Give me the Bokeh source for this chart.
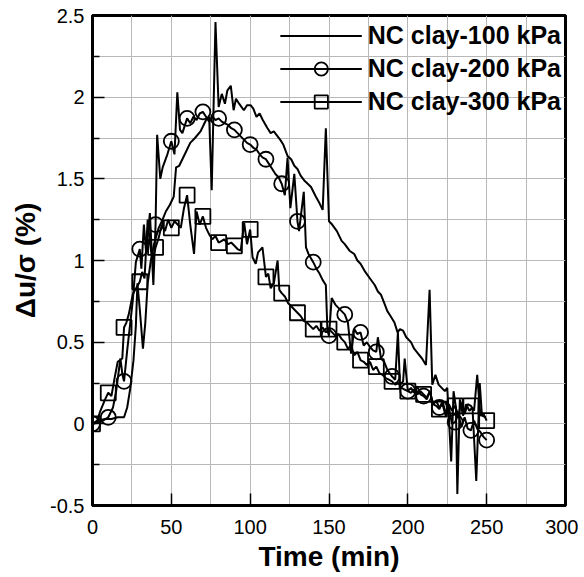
from bokeh.plotting import figure
from bokeh.models import FixedTicker, Legend, LegendItem, CustomJSTickFormatter, Range1d
from bokeh.embed import file_html
from bokeh.resources import INLINE

# ---------------- data ----------------
x_ticks = [0, 50, 100, 150, 200, 250, 300]
x_minor = [25, 75, 125, 175, 225, 275]
y_ticks = [-0.5, 0, 0.5, 1, 1.5, 2, 2.5]
y_minor = [-0.25, 0.25, 0.75, 1.25, 1.75, 2.25]

labels = ["NC clay-100 kPa", "NC clay-200 kPa", "NC clay-300 kPa"]

t100 = [0, 4, 8, 12, 16, 20, 22, 24, 26, 27.5,
        28.5, 30, 32, 33.5, 35, 37, 39, 42, 44, 46.5,
        49, 51.5, 53, 55, 57, 59, 62, 65, 68.5, 72,
        74, 75.6, 78, 80, 82, 84, 85.5, 87.7, 89.5, 91,
        93, 96, 98, 100.4, 102, 104, 106, 108, 111, 113,
        115, 117.4, 119, 121, 123.7, 126, 128, 130, 132, 134.3,
        136.5, 138.6, 141.7, 144, 146, 148, 150, 152, 155, 158,
        160, 163, 166, 168, 170, 173, 176, 179, 181, 183,
        185, 187, 189, 191.5, 193.5, 195, 197, 199, 202, 204,
        206.5, 209, 211.5, 213.8, 215.5, 217.5, 219.5, 221.5, 223.5, 225,
        227.5, 229, 230.5, 231.4, 233, 235, 237, 239, 241, 243.4,
        245.6, 247, 249.5]
v100 = [0.00, 0.02, 0.03, 0.03, 0.04, 0.04, 0.10, 0.22, 0.39, 0.60,
        0.86, 0.70, 0.46, 0.62, 0.86, 1.00, 1.10, 1.20, 1.24, 1.30,
        1.34, 1.39, 1.57, 1.58, 1.62, 1.66, 1.72, 1.75, 1.79, 1.86,
        1.88, 1.43, 2.46, 1.94, 2.02, 1.96, 2.04, 2.07, 1.92, 1.99,
        1.96, 1.92, 1.95, 1.95, 1.93, 1.88, 1.90, 1.86, 1.81, 1.78,
        1.79, 1.76, 1.74, 1.71, 1.64, 1.62, 1.58, 1.56, 1.52, 1.49,
        1.47, 1.45, 1.39, 1.35, 1.31, 1.81, 1.24, 1.22, 1.18, 1.12,
        1.10, 1.06, 1.04, 1.00, 0.98, 0.93, 0.89, 0.85, 0.81, 0.79,
        0.74, 0.69, 0.66, 0.62, 0.56, 0.58, 0.57, 0.53, 0.50, 0.46,
        0.43, 0.40, 0.36, 0.82, 0.24, 0.30, 0.24, 0.22, 0.20, 0.22,
        -0.23, 0.20, 0.10, -0.43, 0.15, 0.05, 0.12, 0.08, 0.10, -0.35,
        0.25, 0.05, 0.04]

t200 = [0, 5, 10, 13, 15, 17.7, 19, 20, 22, 25.5,
        27.5, 30, 31, 32.6, 34, 36.4, 38.6, 40, 41, 43,
        44.5, 47.5, 50, 52, 53.8, 55.5, 57, 60, 62, 64,
        66, 68, 70, 72, 74, 76, 78, 80, 82, 84,
        86, 88, 90, 92, 94, 96, 98, 100, 102, 104,
        106, 108, 110, 112, 114, 116, 118, 120, 122, 123.7,
        125.5, 128, 130, 131, 134, 135.4, 137, 140, 142, 144,
        146, 148, 149, 150, 151.7, 154, 156, 158, 160, 162,
        164, 166, 168, 170, 172, 174, 176, 178, 180, 181,
        183, 185, 187, 190, 192, 193.7, 195, 197, 198, 200,
        202, 204, 206, 208, 210, 212, 214, 216, 218, 220,
        222, 224, 226, 228, 230, 232, 234, 236, 238, 240,
        242, 244, 246, 248, 250]
v200 = [0.00, 0.01, 0.04, 0.10, 0.20, 0.40, 0.30, 0.26, 0.45, 0.75,
        0.99, 1.07, 0.95, 1.22, 1.05, 1.29, 0.85, 1.22, 1.77, 1.50,
        1.57, 1.65, 1.73, 1.65, 2.03, 1.80, 1.78, 1.87, 1.84, 1.88,
        1.86, 1.90, 1.91, 1.88, 1.85, 1.88, 1.86, 1.87, 1.85, 1.84,
        1.83, 1.81, 1.80, 1.78, 1.76, 1.74, 1.72, 1.71, 1.69, 1.68,
        1.65, 1.63, 1.62, 1.59, 1.56, 1.53, 1.51, 1.47, 1.40, 1.63,
        1.32, 1.53, 1.24, 1.18, 1.42, 1.08, 1.04, 0.99, 0.95, 0.92,
        0.88, 0.85, 0.57, 0.54, 0.77, 0.73, 0.71, 0.69, 0.67, 0.62,
        0.43, 0.58, 0.55, 0.56, 0.48, 0.50, 0.47, 0.45, 0.44, 0.53,
        0.40, 0.38, 0.33, 0.29, 0.27, 0.56, 0.24, 0.26, 0.40, 0.20,
        0.22, 0.19, 0.23, 0.18, 0.17, 0.15, 0.20, 0.12, 0.14, 0.10,
        0.12, 0.05, 0.10, 0.00, 0.01, 0.06, -0.02, 0.04, -0.03, -0.04,
        0.02, -0.03, -0.05, -0.08, -0.10]

t300 = [0, 3, 5, 8, 10, 12, 14, 16, 18.9, 20,
        21.5, 23, 25.5, 27, 30, 31.5, 33, 35, 36.5, 38,
        40, 42, 44, 46, 48, 50, 52, 54, 56, 58,
        60, 62, 64.4, 66, 68, 70, 72, 74, 76, 78,
        80, 82, 83.5, 86, 88, 90, 92, 94, 96.2, 98,
        100, 101.5, 103.5, 105, 107.8, 110, 111.5, 113, 115, 117.4,
        118.5, 120, 122, 124, 126, 128, 130, 132, 134, 136,
        138, 140, 142, 144, 146, 148, 150, 152, 154, 156,
        158, 160, 162, 164, 166, 168, 170, 172, 174, 176,
        178, 180, 182, 184, 186, 188, 190, 192, 194, 196,
        198, 200, 202, 204, 206, 208, 210, 212, 214, 216,
        218, 220, 222, 224, 226, 228, 230, 232, 234, 236,
        238, 240, 242, 244, 246, 248, 250]
v300 = [0.00, 0.02, 0.08, 0.15, 0.19, 0.17, 0.28, 0.38, 0.40, 0.59,
        0.62, 0.67, 0.79, 0.82, 0.87, 0.93, 0.89, 1.25, 1.10, 1.00,
        1.08, 1.14, 1.22, 1.18, 1.25, 1.20, 1.24, 1.22, 1.20, 1.32,
        1.40, 1.22, 1.04, 1.30, 1.22, 1.27, 1.20, 1.16, 1.13, 1.15,
        1.11, 1.12, 1.13, 1.10, 1.11, 1.09, 1.07, 1.06, 1.23, 1.10,
        1.19, 1.02, 0.98, 1.05, 1.08, 0.90, 0.92, 0.83, 0.86, 1.00,
        0.82, 0.80, 0.78, 0.74, 0.72, 0.70, 0.68, 0.66, 0.63, 0.62,
        0.60, 0.58, 0.60, 0.57, 0.59, 0.56, 0.58, 0.56, 0.54, 0.55,
        0.52, 0.50, 0.46, 0.48, 0.42, 0.44, 0.39, 0.38, 0.36, 0.38,
        0.33, 0.35, 0.31, 0.30, 0.28, 0.27, 0.26, 0.24, 0.25, 0.22,
        0.21, 0.20, 0.19, 0.21, 0.18, 0.20, 0.18, 0.16, 0.20, 0.12,
        0.11, 0.09, 0.14, 0.06, 0.12, 0.08, 0.11, 0.05, 0.13, 0.06,
        0.12, 0.11, 0.08, 0.30, 0.05, 0.06, 0.02]

# markers every 10 minutes (taken from the series themselves)
m200 = [(t, v) for t, v in zip(t200, v200) if t % 10 == 0]
m300 = [(t, v) for t, v in zip(t300, v300) if t % 10 == 0]

FONT = "Liberation Sans"
GRID = "#b8b8b8"

p = figure(width=578, height=575,
           x_range=Range1d(0, 300), y_range=Range1d(-0.5, 2.5),
           output_backend="svg", toolbar_location=None,
           min_border_left=92, min_border_right=13,
           min_border_top=15, min_border_bottom=70)

p.background_fill_color = "white"
p.border_fill_color = "white"
p.outline_line_color = "black"
p.outline_line_width = 3

xt = FixedTicker(ticks=x_ticks, minor_ticks=x_minor)
yt = FixedTicker(ticks=y_ticks, minor_ticks=y_minor)
p.xaxis.ticker = xt
p.yaxis.ticker = yt
p.xgrid.ticker = xt
p.ygrid.ticker = yt

for g in (p.xgrid, p.ygrid):
    g.grid_line_color = GRID
    g.grid_line_width = 1
    g.minor_grid_line_color = GRID
    g.minor_grid_line_width = 1

p.yaxis.formatter = CustomJSTickFormatter(code="return String(tick);")

for ax in (p.xaxis, p.yaxis):
    ax.axis_line_width = 3
    ax.axis_line_color = "black"
    ax.major_tick_in = 12
    ax.major_tick_out = 0
    ax.major_tick_line_width = 1.5
    ax.major_tick_line_color = "black"
    ax.minor_tick_line_width = 1.5
    ax.minor_tick_line_color = "black"
    ax.major_label_text_font = FONT
    ax.major_label_text_font_size = "20px"
    ax.major_label_text_color = "black"
    ax.axis_label_text_font = FONT
    ax.axis_label_text_font_style = "bold"
    ax.axis_label_text_color = "black"

p.xaxis.minor_tick_in = 0
p.xaxis.minor_tick_out = 0
p.yaxis.minor_tick_in = 7
p.yaxis.minor_tick_out = 0

p.xaxis.axis_label = "Time (min)"
p.xaxis.axis_label_text_font_size = "28px"
p.xaxis.axis_label_standoff = 4
p.xaxis.major_label_standoff = 14

p.yaxis.axis_label = "Δu/σ (%)"
p.yaxis.axis_label_text_font_size = "28px"
p.yaxis.axis_label_standoff = 6
p.yaxis.major_label_standoff = 8

LW = 2
r1 = p.line(t100, v100, line_color="black", line_width=LW)

r2 = p.line(t200, v200, line_color="black", line_width=LW)
r2m = p.scatter([a for a, b in m200], [b for a, b in m200], marker="circle",
                size=15, fill_alpha=0, line_color="black", line_width=1.8)

r3 = p.line(t300, v300, line_color="black", line_width=LW)
r3m = p.scatter([a for a, b in m300], [b for a, b in m300], marker="square",
                size=15, fill_alpha=0, line_color="black", line_width=1.8)

legend = Legend(items=[LegendItem(label=labels[0], renderers=[r1]),
                       LegendItem(label=labels[1], renderers=[r2, r2m]),
                       LegendItem(label=labels[2], renderers=[r3, r3m])],
                location="top_right",
                label_text_font=FONT, label_text_font_style="bold",
                label_text_font_size="25px", label_text_color="black",
                glyph_width=82, glyph_height=33, label_height=33,
                spacing=0, padding=1, margin=3, label_standoff=6,
                background_fill_alpha=0, border_line_alpha=0)
p.add_layout(legend)

open("out.html", "w").write(file_html(p, INLINE))
